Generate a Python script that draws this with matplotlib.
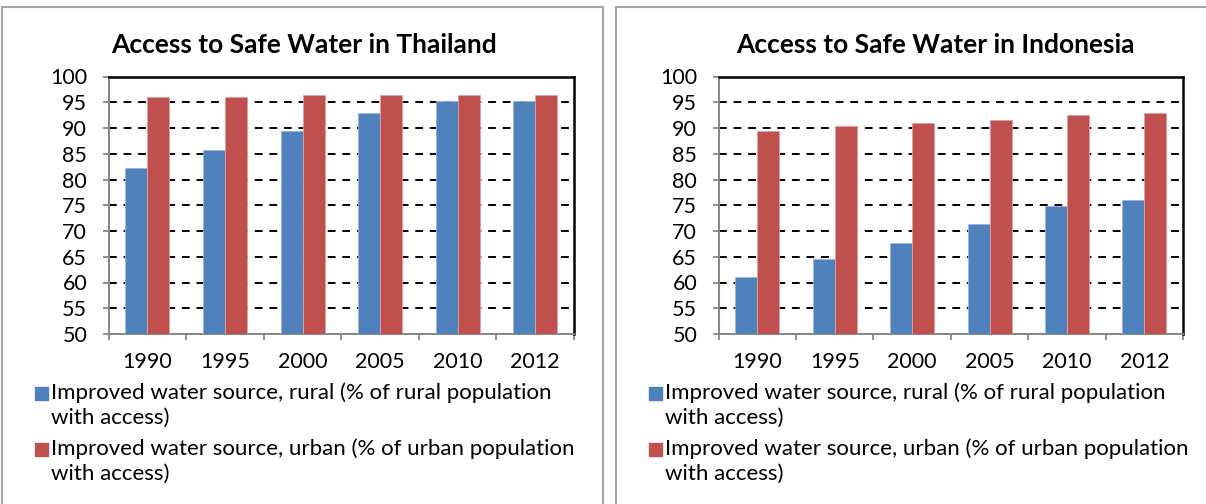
import matplotlib
matplotlib.use("Agg")
import matplotlib.pyplot as plt
from matplotlib.patches import Rectangle
import numpy as np

plt.rcParams["font.family"] = ["Lato", "DejaVu Sans"]

# Data
years = ["1990", "1995", "2000", "2005", "2010", "2012"]
thailand_rural = [82.3, 85.8, 89.4, 92.9, 95.2, 95.2]
thailand_urban = [96.1, 96.1, 96.5, 96.5, 96.5, 96.5]
indonesia_rural = [61.0, 64.5, 67.7, 71.3, 74.9, 76.1]
indonesia_urban = [89.4, 90.3, 91.0, 91.6, 92.6, 92.9]

rural_label = "Improved water source, rural (% of rural population\nwith access)"
urban_label = "Improved water source, urban (% of urban population\nwith access)"

blue = "#4F81BD"
red = "#C0504D"

W, H = 1206, 504
fig = plt.figure(figsize=(W / 100, H / 100), dpi=100)


def px_axes(x0, y0, x1, y1):
    # pixel box (top-left origin) -> figure fraction axes
    return fig.add_axes([x0 / W, 1 - y1 / H, (x1 - x0) / W, (y1 - y0) / H])


def panel(px0, px1, plot_x0, plot_x1, title, rural, urban):
    # chart border
    fig.patches.append(Rectangle((px0 / W, -0.1), (px1 - px0) / W, 1.1 - 7 / H,
                                 transform=fig.transFigure, fill=False,
                                 edgecolor="#A6A6A6", linewidth=1.5))
    ax = px_axes(plot_x0, 76.5, plot_x1, 334)
    x = np.arange(len(years))
    bw = 0.284
    ax.bar(x - bw, rural, bw, align="edge", color=blue, edgecolor="#9DB5D9",
           linewidth=0.6, zorder=3)
    ax.bar(x, urban, bw, align="edge", color=red, edgecolor="#E0A09E",
           linewidth=0.6, zorder=3)
    ax.set_ylim(50, 100)
    ax.set_xlim(-0.5, len(years) - 0.5)
    ax.set_yticks(np.arange(50, 101, 5))
    ax.set_xticks(x)
    ax.set_xticklabels(years)
    ax.set_xticks(np.arange(-0.5, len(years)), minor=True)
    ax.tick_params(axis="x", which="major", length=0, pad=13, labelsize=15.5)
    ax.tick_params(axis="x", which="minor", length=4.5, width=1.3,
                   color="#868686", direction="out")
    ax.tick_params(axis="y", length=4.5, width=1.3, color="#868686",
                   pad=11, labelsize=15.5)
    ax.yaxis.grid(True, color="black", linestyle=(0, (4, 3.5)),
                  linewidth=1.4, zorder=0)
    ax.set_axisbelow(True)
    for s in ["left", "bottom"]:
        ax.spines[s].set_color("#868686")
        ax.spines[s].set_linewidth(1.4)
    for s in ["top", "right"]:
        ax.spines[s].set_color("black")
        ax.spines[s].set_linewidth(1.8)
    fig.text((px0 + px1) / 2 / W + 2 / W, 1 - 45 / H, title, ha="center",
             va="center", fontsize=19, fontweight="bold")
    # legend
    lx = px0 + 33
    for ly, lab, col in [(393, rural_label, blue), (449, urban_label, red)]:
        fig.patches.append(Rectangle((lx / W, 1 - (ly + 6.5) / H), 13 / W, 13 / H,
                                     transform=fig.transFigure, color=col))
        for i, line in enumerate(lab.split("\n")):
            fig.text((lx + 16) / W, 1 - (ly + 25 * i) / H, line, ha="left",
                     va="center", fontsize=16)
    return ax


panel(2, 603, 108.7, 574, "Access to Safe Water in Thailand",
      thailand_rural, thailand_urban)
panel(616, 1250, 718.7, 1183, "Access to Safe Water in Indonesia",
      indonesia_rural, indonesia_urban)

fig.savefig("out.png", dpi=100, facecolor="white")
